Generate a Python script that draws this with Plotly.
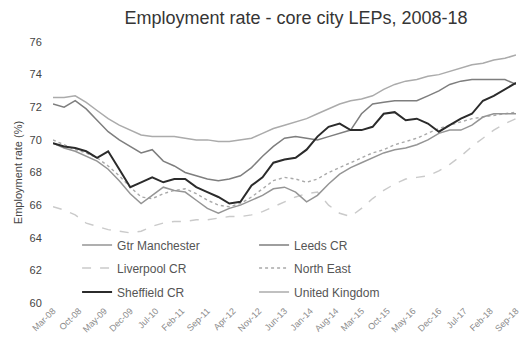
import pandas as pd
import plotly.graph_objects as go

FONT = "Liberation Sans, Arial, sans-serif"

# Rolling-quarter observations, every third month from Mar-08 to Sep-18
DATES = pd.date_range("2008-03-01", "2018-09-01", freq="3MS")

TICK_LABELS = ["Mar-08", "Oct-08", "May-09", "Dec-09", "Jul-10", "Feb-11", "Sep-11",
               "Apr-12", "Nov-12", "Jun-13", "Jan-14", "Aug-14", "Mar-15", "Oct-15",
               "May-16", "Dec-16", "Jul-17", "Feb-18", "Sep-18"]
TICK_DATES = pd.date_range("2008-03-01", periods=len(TICK_LABELS), freq="7MS")

# Employment rate (%), aged 16-64
gtr_manchester = [69.8, 69.5, 69.3, 69.0, 68.7, 68.2, 67.5, 66.7, 66.1, 66.6, 67.1, 66.9, 66.8,
                  66.3, 65.8, 65.5, 65.8, 66.0, 66.3, 66.6, 67.0, 67.1, 66.8, 66.2, 66.6, 67.3,
                  67.9, 68.3, 68.6, 68.9, 69.2, 69.4, 69.5, 69.7, 70.0, 70.4, 70.6, 70.6, 70.9,
                  71.4, 71.6, 71.6, 71.6]
leeds_cr = [72.2, 72.0, 72.4, 71.9, 71.2, 70.5, 70.0, 69.6, 69.2, 69.4, 68.7, 68.4, 68.0,
            67.8, 67.6, 67.5, 67.6, 67.8, 68.3, 69.0, 69.6, 70.1, 70.2, 70.1, 70.0, 70.2,
            70.4, 70.6, 71.6, 72.2, 72.3, 72.4, 72.4, 72.4, 72.7, 73.0, 73.4, 73.6, 73.7,
            73.7, 73.7, 73.7, 73.4]
liverpool_cr = [65.9, 65.7, 65.4, 64.9, 64.7, 64.5, 64.4, 64.3, 64.4, 64.7, 64.9, 65.0, 65.0,
                65.1, 65.1, 65.2, 65.3, 65.3, 65.4, 65.6, 65.9, 66.2, 66.5, 66.7, 66.8, 66.0,
                65.5, 65.3, 65.8, 66.4, 66.9, 67.3, 67.6, 67.7, 67.8, 68.1, 68.5, 69.0, 69.6,
                70.1, 70.6, 71.0, 71.3]
north_east = [70.0, 69.7, 69.4, 69.2, 68.9, 68.4, 67.8, 67.1, 66.5, 66.4, 66.7, 66.9, 67.0,
              66.7, 66.3, 66.0, 65.9, 66.1, 66.5, 67.0, 67.5, 67.7, 67.6, 67.4, 67.6, 68.0,
              68.3, 68.6, 68.9, 69.2, 69.4, 69.7, 69.9, 70.1, 70.4, 70.7, 70.9, 71.1, 71.3,
              71.4, 71.5, 71.6, 71.7]
sheffield_cr = [69.8, 69.6, 69.5, 69.3, 68.9, 69.3, 68.2, 67.1, 67.4, 67.7, 67.4, 67.6, 67.6,
                67.1, 66.8, 66.5, 66.1, 66.2, 67.2, 67.7, 68.6, 68.8, 68.9, 69.4, 70.2, 70.8,
                71.0, 70.6, 70.6, 70.8, 71.6, 71.7, 71.2, 71.3, 71.0, 70.5, 70.9, 71.3, 71.6,
                72.4, 72.7, 73.1, 73.5]
united_kingdom = [72.6, 72.6, 72.7, 72.3, 71.8, 71.3, 70.9, 70.6, 70.3, 70.2, 70.2, 70.2, 70.1,
                  70.0, 70.0, 69.9, 69.9, 70.0, 70.1, 70.4, 70.7, 70.9, 71.1, 71.3, 71.6, 71.9,
                  72.2, 72.4, 72.5, 72.7, 73.1, 73.4, 73.6, 73.7, 73.9, 74.0, 74.2, 74.4, 74.6,
                  74.7, 74.9, 75.0, 75.2]

# (name, values, colour, width, dash, legend row, rank within row) - drawn light to dark
SERIES = [
    ("Liverpool CR", liverpool_cr, "#cacaca", 1.4, "dash", "legend2", 1),
    ("North East", north_east, "#a9a9a9", 1.4, "dot", "legend2", 2),
    ("United Kingdom", united_kingdom, "#ababab", 1.5, "solid", "legend3", 2),
    ("Gtr Manchester", gtr_manchester, "#959595", 1.5, "solid", "legend", 1),
    ("Leeds CR", leeds_cr, "#7e7e7e", 1.5, "solid", "legend", 2),
    ("Sheffield CR", sheffield_cr, "#2b2b2b", 2.0, "solid", "legend3", 1),
]

fig = go.Figure()
for name, vals, colour, width, dash, leg, rank in SERIES:
    fig.add_trace(go.Scatter(
        x=DATES, y=vals, name=name, mode="lines",
        line=dict(color=colour, width=width, dash=dash),
        legend=leg, legendrank=rank, hoverinfo="skip",
    ))

# Legend rows sit inside the lower part of the plotting area
legend_style = dict(
    orientation="h", xref="paper", yref="paper",
    x=0.052, xanchor="left", yanchor="middle",
    entrywidth=132, entrywidthmode="pixels",
    bgcolor="rgba(0,0,0,0)", itemwidth=30,
    font=dict(family=FONT, size=12, color="#555555"),
)

fig.update_layout(
    width=524, height=349,
    margin=dict(l=53, r=8, t=42, b=46),
    paper_bgcolor="white", plot_bgcolor="white",
    font=dict(family=FONT, color="#444444"),
    title=dict(
        text="Employment rate - core city LEPs, 2008-18",
        font=dict(family=FONT, size=18, color="#353535"),
        x=296 / 524, xref="container", xanchor="center",
        y=1 - 18 / 349, yref="container", yanchor="middle",
    ),
    legend=dict(legend_style, y=0.222),
    legend2=dict(legend_style, y=0.134),
    legend3=dict(legend_style, y=0.042),
    xaxis=dict(
        type="date",
        range=[DATES[0], DATES[-1]],
        tickvals=TICK_DATES, ticktext=TICK_LABELS,
        tickangle=-45, tickfont=dict(family=FONT, size=9, color="#8a8a8a"),
        showgrid=False, zeroline=False, showline=False, ticks="",
        automargin=False,
    ),
    yaxis=dict(
        range=[60, 76], dtick=2,
        tickfont=dict(family=FONT, size=11, color="#444444"),
        ticks="outside", ticklen=8, tickcolor="rgba(0,0,0,0)",
        showgrid=False, zeroline=False, showline=False, automargin=False,
        title=dict(text="Employment rate (%)", standoff=4,
                   font=dict(family=FONT, size=11, color="#444444")),
    ),
)

fig.write_html("out.html")
